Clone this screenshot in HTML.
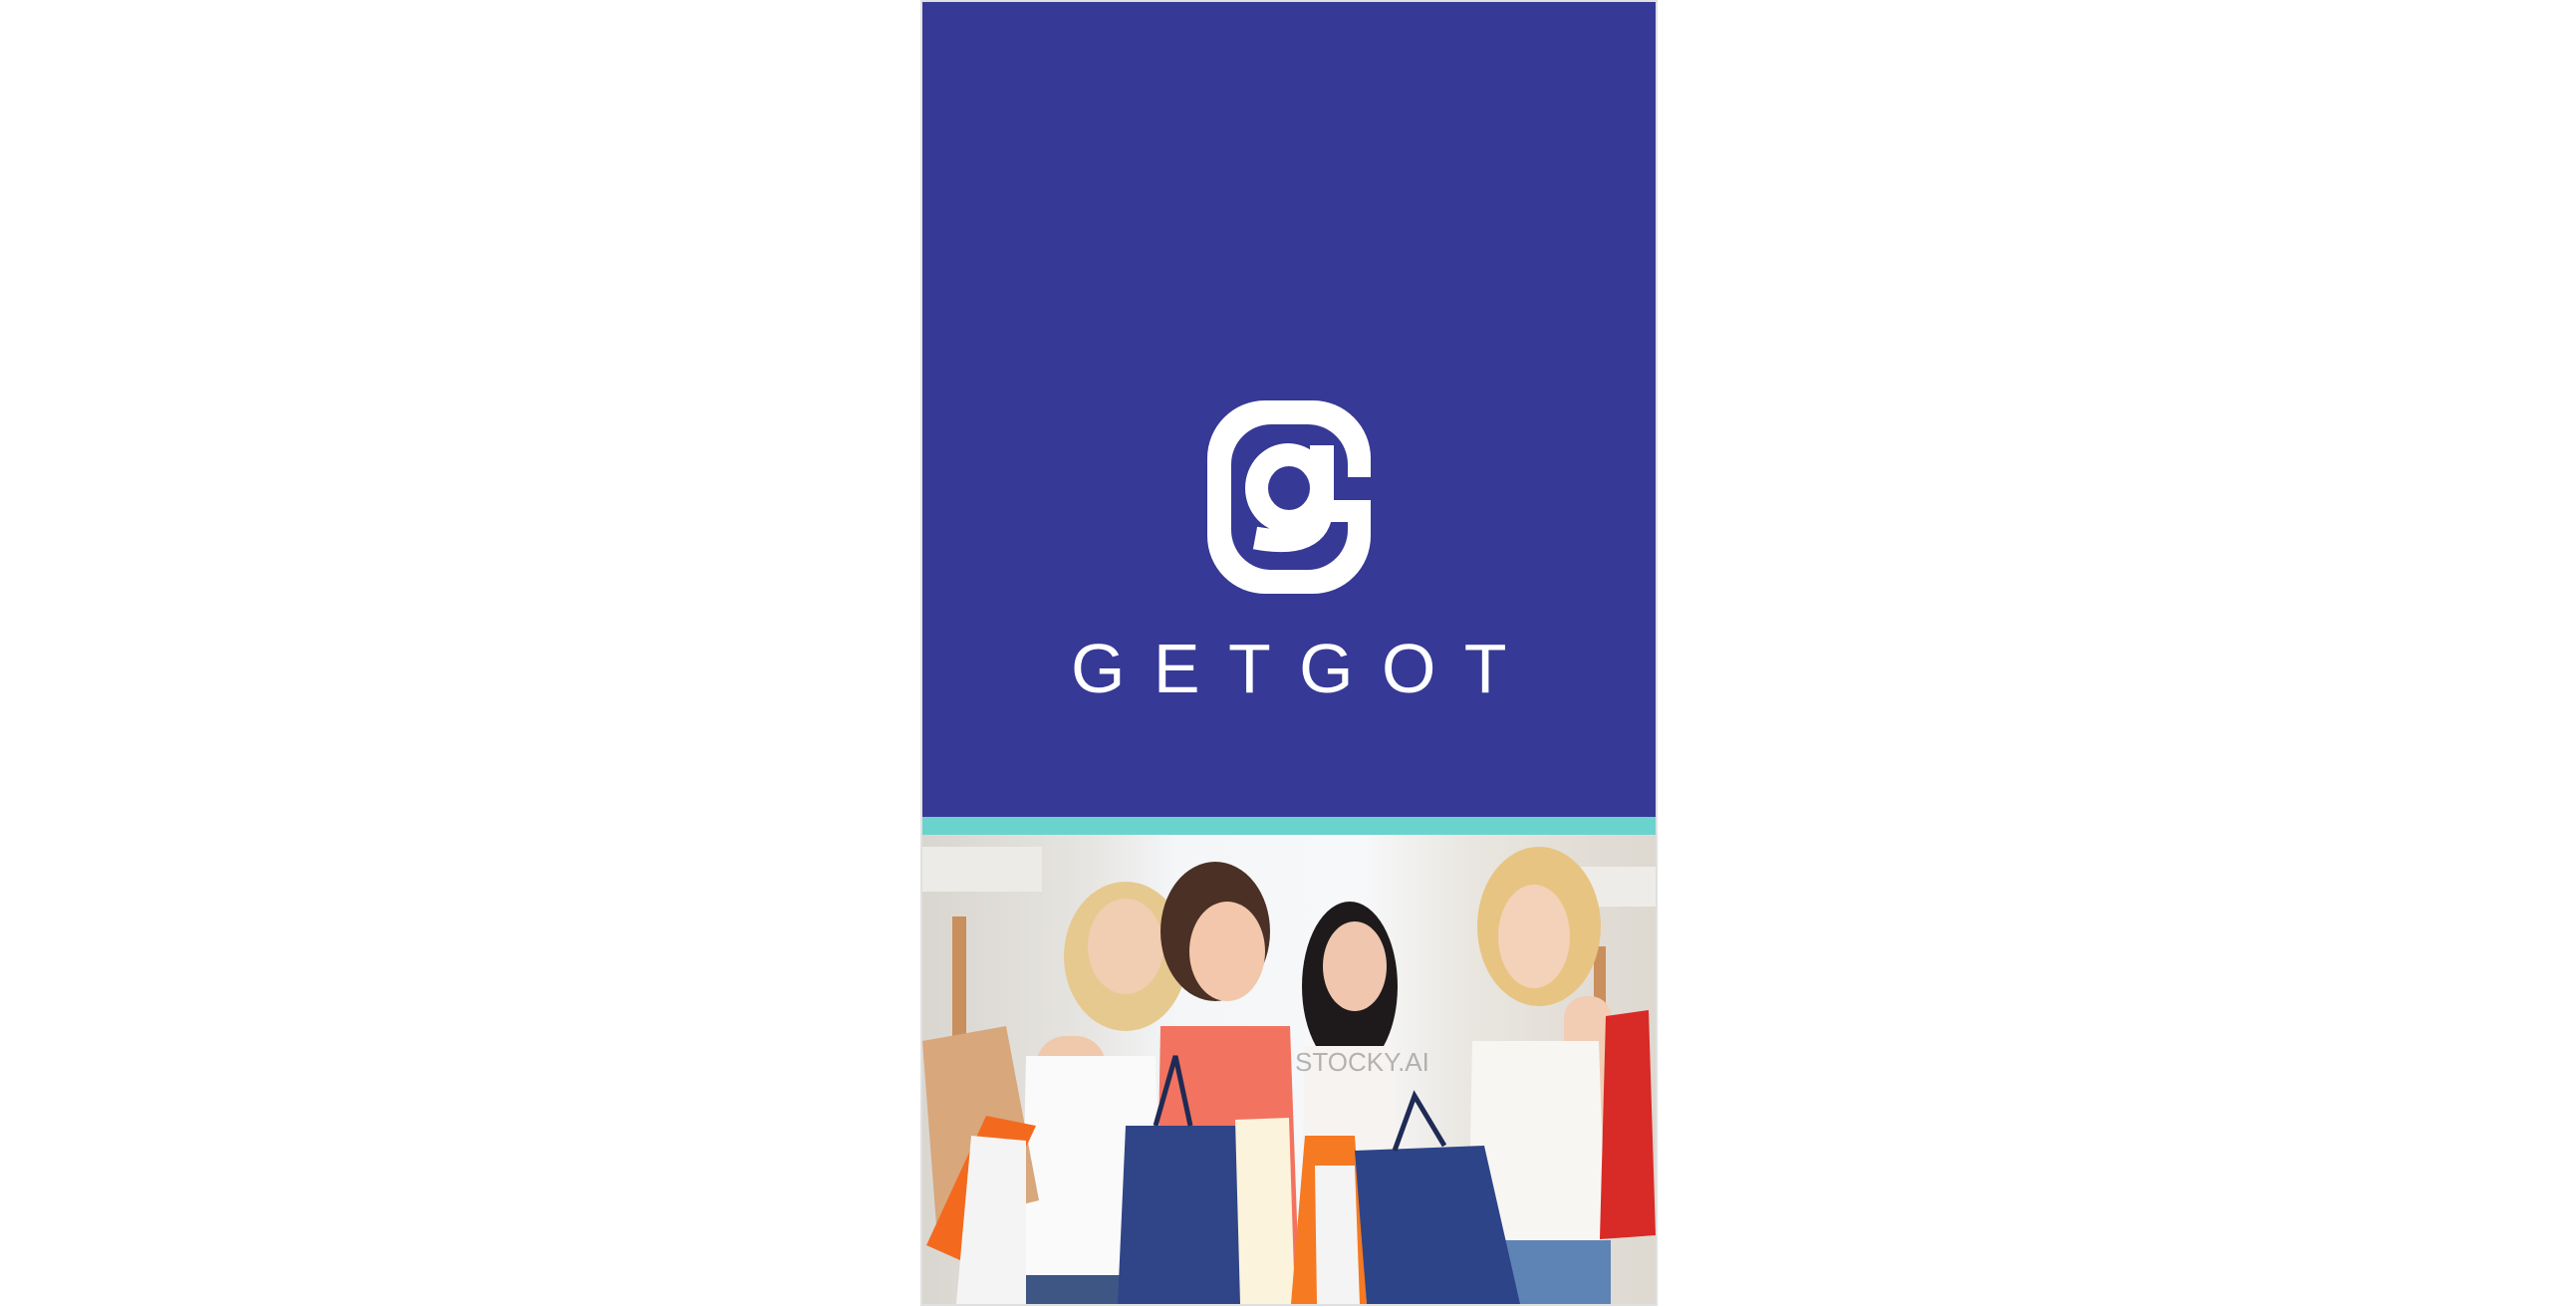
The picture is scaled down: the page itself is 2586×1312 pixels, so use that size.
<!DOCTYPE html>
<html><head><meta charset="utf-8"><style>
html,body{margin:0;padding:0;background:#fff;width:2586px;height:1312px;overflow:hidden}
svg{display:block}
</style></head><body>
<svg width="2586" height="1312" viewBox="0 0 2586 1312">
<defs>
<linearGradient id="bg" x1="0" x2="1" y1="0" y2="0">
<stop offset="0" stop-color="#d9d6d0"/><stop offset="0.22" stop-color="#e6e4e0"/><stop offset="0.35" stop-color="#f4f6f8"/><stop offset="0.6" stop-color="#f7f8fa"/><stop offset="0.75" stop-color="#e9e6e0"/><stop offset="1" stop-color="#ddd8d0"/>
</linearGradient>
<clipPath id="pc"><rect x="926" y="838" width="736" height="471"/></clipPath>
</defs>
<rect x="925" y="1" width="738" height="1309" fill="none" stroke="#e0e0e0" stroke-width="2"/>
<rect x="926" y="2" width="736" height="818" fill="#363996"/>
<rect x="926" y="820" width="736" height="18" fill="#6bd3cd"/>
<g transform="translate(1190,390)">
<rect x="22" y="12" width="164" height="194" rx="58" fill="#fff"/>
<rect x="46" y="36" width="117" height="146" rx="40" fill="#363996"/>
<rect x="160" y="89" width="30" height="23" fill="#363996"/>
<rect x="146" y="112" width="22" height="22" fill="#fff"/>
<ellipse cx="103" cy="100" rx="43" ry="45" fill="#fff"/>
<ellipse cx="104" cy="100" rx="21" ry="22" fill="#363996"/>
<rect x="125" y="57" width="24" height="77" fill="#fff"/>
<path d="M137 120 Q135 162 70 150" fill="none" stroke="#fff" stroke-width="23"/>
</g>
<text x="1075" y="695" font-family="Liberation Sans, sans-serif" font-size="70" fill="#fff" letter-spacing="28.4">GETGOT</text>
<g clip-path="url(#pc)">
<rect x="926" y="838" width="736" height="471" fill="url(#bg)"/>
<rect x="926" y="850" width="120" height="45" fill="#ecebe8"/>
<rect x="956" y="920" width="14" height="120" fill="#c98f5c"/>
<rect x="1560" y="870" width="102" height="40" fill="#eeece8"/>
<rect x="1600" y="950" width="12" height="100" fill="#c98f5c"/>
<ellipse cx="1130" cy="960" rx="62" ry="75" fill="#e6c98e"/>
<ellipse cx="1130" cy="950" rx="38" ry="48" fill="#f1cdb1"/>
<rect x="1040" y="1040" width="70" height="110" rx="30" fill="#f0c8ab"/>
<path d="M1030 1060 L1160 1060 L1165 1300 L1025 1300 Z" fill="#fafafa"/>
<rect x="1030" y="1280" width="120" height="30" fill="#3d5683"/>
<ellipse cx="1220" cy="935" rx="55" ry="70" fill="#4a3025"/>
<ellipse cx="1232" cy="955" rx="38" ry="50" fill="#f2c7ab"/>
<path d="M1165 1030 L1295 1030 L1305 1309 L1160 1309 Z" fill="#f2735f"/>
<ellipse cx="1355" cy="990" rx="48" ry="85" fill="#1e1a1b"/>
<ellipse cx="1360" cy="970" rx="32" ry="45" fill="#f0c6ae"/>
<path d="M1310 1050 L1400 1050 L1405 1309 L1305 1309 Z" fill="#f7f3f0"/>
<ellipse cx="1545" cy="930" rx="62" ry="80" fill="#e8c482"/>
<ellipse cx="1540" cy="940" rx="36" ry="52" fill="#f3d2b9"/>
<rect x="1570" y="1000" width="48" height="140" rx="22" fill="#f2cdb4"/>
<path d="M1478 1045 L1605 1045 L1612 1255 L1474 1255 Z" fill="#f8f6f2"/>
<rect x="1505" y="1245" width="112" height="64" fill="#5e83b5"/>
<path d="M926 1045 L1010 1030 L1043 1205 L940 1230 Z" fill="#d8a77b"/>
<path d="M930 1250 L990 1120 L1040 1130 L975 1270 Z" fill="#f36a1f"/>
<path d="M975 1140 L1030 1145 L1030 1309 L960 1309 Z" fill="#f4f4f4"/>
<path d="M1130 1130 L1250 1130 L1255 1309 L1122 1309 Z" fill="#2f4587"/>
<path d="M1160 1130 L1180 1060 L1195 1130" fill="none" stroke="#1f2b55" stroke-width="5"/>
<path d="M1240 1124 L1294 1122 L1300 1309 L1245 1309 Z" fill="#fbf3dc"/>
<path d="M1310 1140 L1360 1140 L1372 1309 L1296 1309 Z" fill="#f57a22"/>
<path d="M1320 1170 L1360 1170 L1365 1309 L1322 1309 Z" fill="#f4f4f4"/>
<path d="M1360 1155 L1490 1150 L1526 1309 L1372 1309 Z" fill="#2e4488"/>
<path d="M1400 1155 L1420 1100 L1450 1150" fill="none" stroke="#1f2b55" stroke-width="5"/>
<path d="M1612 1020 L1655 1014 L1662 1240 L1606 1244 Z" fill="#d82a26"/>
<text x="1300" y="1075" font-family="Liberation Sans, sans-serif" font-size="26" fill="#888" opacity="0.6">STOCKY.AI</text>
</g>
</svg>
</body></html>
